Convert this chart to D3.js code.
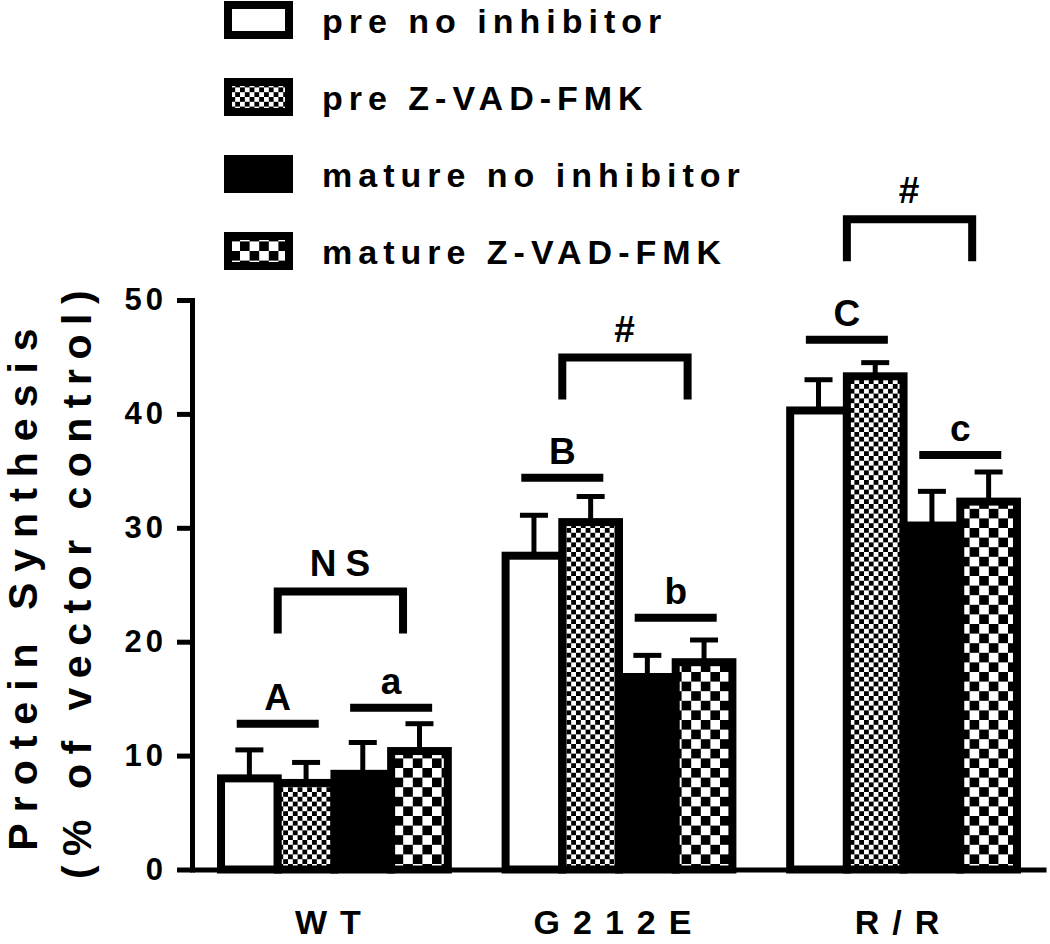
<!DOCTYPE html>
<html>
<head>
<meta charset="utf-8">
<script src="https://cdn.jsdelivr.net/npm/d3@7"></script>
<style>
  body { margin: 0; background: #fff; }
  text { font-family: "Liberation Sans", Arial, sans-serif; font-weight: bold; fill: #000; }
</style>
</head>
<body>
<script>
// data
var groups = ["WT", "G212E", "R/R"];
var series = ["pre no inhibitor", "pre Z-VAD-FMK", "mature no inhibitor", "mature Z-VAD-FMK"];

var preNone = [8.0, 27.55, 40.3];
var preZvad = [7.6, 30.5, 43.3];
var matNone = [8.4, 16.9, 30.2];
var matZvad = [10.4, 18.2, 32.3];

var preNoneErr = [2.5, 3.55, 2.7];
var preZvadErr = [1.8, 2.25, 1.2];
var matNoneErr = [2.75, 1.9, 3.0];
var matZvadErr = [2.4, 1.95, 2.6];

var yTicks = [0, 10, 20, 30, 40, 50];

// significance marks
var preLetters = ["A", "B", "C"];
var preLetterY = [12.8, 34.4, 46.5];
var matLetters = ["a", "b", "c"];
var matLetterY = [14.2, 22.1, 36.4];
var bracketText = ["NS", "#", "#"];
var bracketY = [24.4, 44.95, 57.1];

var values = [preNone, preZvad, matNone, matZvad];
var errors = [preNoneErr, preZvadErr, matNoneErr, matZvadErr];
var fills = ["#fff", "url(#fine)", "#000", "url(#coarse)"];

var width = 1050, height = 944;

var svg = d3.select("body").append("svg")
    .attr("width", width)
    .attr("height", height)
    .attr("viewBox", `0 0 ${width} ${height}`);

// checker patterns
var defs = svg.append("defs");
function checker(id, c) {
  var p = defs.append("pattern")
      .attr("id", id)
      .attr("patternUnits", "userSpaceOnUse")
      .attr("width", c * 2)
      .attr("height", c * 2);
  p.append("rect").attr("width", c * 2).attr("height", c * 2).attr("fill", "#fff");
  p.append("rect").attr("width", c).attr("height", c).attr("fill", "#000");
  p.append("rect").attr("x", c).attr("y", c).attr("width", c).attr("height", c).attr("fill", "#000");
}
checker("fine", 4.8);
checker("coarse", 9.6);

var x0 = d3.scaleBand()
    .domain(groups)
    .range([192, 1046])
    .paddingInner(0.203)
    .paddingOuter(0.102);

var x1 = d3.scaleBand()
    .domain(d3.range(series.length))
    .range([0, x0.bandwidth()]);

var y = d3.scaleLinear()
    .domain([0, 50])
    .range([869.5, 300]);

var rows = [];
groups.forEach(function(g, gi) {
  values.forEach(function(arr, si) {
    rows.push({group: g, gi: gi, si: si, value: arr[gi], err: errors[si][gi]});
  });
});

// error bars (drawn under the bars)
var err = svg.append("g").selectAll("g")
  .data(rows)
  .enter()
  .append("g")
  .attr("transform", d => `translate(${x0(d.group) + x1(d.si) + x1.bandwidth() / 2},0)`);

err.append("line")
    .attr("y1", d => y(d.value))
    .attr("y2", d => y(d.value + d.err))
    .attr("stroke", "#000")
    .attr("stroke-width", 5);

err.append("line")
    .attr("x1", -14)
    .attr("x2", 14)
    .attr("y1", d => y(d.value + d.err))
    .attr("y2", d => y(d.value + d.err))
    .attr("stroke", "#000")
    .attr("stroke-width", 5);

svg.append("g").selectAll("rect")
  .data(rows)
  .enter()
  .append("rect")
    .attr("x", d => x0(d.group) + x1(d.si))
    .attr("width", x1.bandwidth())
    .attr("y", d => y(d.value))
    .attr("height", d => y(0) - y(d.value))
    .attr("fill", d => fills[d.si])
    .attr("stroke", "#000")
    .attr("stroke-width", 8);

// axes
var y_axis = d3.axisLeft(y)
    .tickValues(yTicks)
    .tickSize(15)
    .tickSizeOuter(0)
    .tickPadding(10);

var yg = svg.append("g")
    .attr("transform", "translate(192,0)")
    .call(y_axis);
yg.selectAll("path, line").attr("stroke", "#000").attr("stroke-width", 5);
yg.select(".domain").attr("stroke-linecap", "square");
yg.selectAll("text")
    .style("font-size", "31px")
    .style("letter-spacing", "4px")
    .attr("fill", "#000");

var x_axis = d3.axisBottom(x0)
    .tickSize(0)
    .tickSizeOuter(0)
    .tickPadding(40);

var xg = svg.append("g")
    .attr("transform", `translate(0,${y(0)})`)
    .call(x_axis);
xg.select(".domain").attr("stroke", "#000").attr("stroke-width", 5);
xg.selectAll("text")
    .style("font-size", "34px")
    .style("letter-spacing", "13px")
    .attr("fill", "#000");

// y title
svg.append("text")
    .attr("transform", "rotate(-90)")
    .attr("x", -584)
    .attr("y", 37)
    .attr("text-anchor", "middle")
    .style("font-size", "41px")
    .style("letter-spacing", "11px")
    .text("Protein Synthesis");

svg.append("text")
    .attr("transform", "rotate(-90)")
    .attr("x", -580)
    .attr("y", 91)
    .attr("text-anchor", "middle")
    .style("font-size", "41px")
    .style("letter-spacing", "9.5px")
    .text("(% of vector control)");

// significance lines
var bw = x1.bandwidth();
var ann = svg.append("g");

groups.forEach(function(g, gi) {
  var left = x0(g);
  [[preLetters, preLetterY, 1], [matLetters, matLetterY, 3]].forEach(function(s) {
    var cx = left + bw * s[2];
    var yy = y(s[1][gi]);
    ann.append("line")
        .attr("x1", cx - 41).attr("x2", cx + 41)
        .attr("y1", yy).attr("y2", yy)
        .attr("stroke", "#000").attr("stroke-width", 8);
    ann.append("text")
        .attr("x", cx)
        .attr("y", yy - 14)
        .attr("text-anchor", "middle")
        .style("font-size", "37px")
        .text(s[0][gi]);
  });

  var bl = left + bw * 1, br = left + bw * 3.21, by = y(bracketY[gi]);
  ann.append("path")
      .attr("d", `M${bl},${by + 42}V${by}H${br}V${by + 42}`)
      .attr("fill", "none")
      .attr("stroke", "#000")
      .attr("stroke-width", 8)
      .attr("stroke-linejoin", "miter");
  ann.append("text")
      .attr("x", (bl + br) / 2 + 4)
      .attr("y", by - 16)
      .attr("text-anchor", "middle")
      .style("font-size", "37px")
      .style("letter-spacing", "9px")
      .text(bracketText[gi]);
});

// legend
var legend = svg.append("g").selectAll("g")
  .data(series)
  .enter()
  .append("g")
  .attr("transform", (d, i) => `translate(0,${20 + i * 77})`);

legend.append("rect")
    .attr("x", 228)
    .attr("y", -15)
    .attr("width", 61)
    .attr("height", 30)
    .attr("fill", (d, i) => fills[i])
    .attr("stroke", "#000")
    .attr("stroke-width", 8);

legend.append("text")
    .attr("x", 322)
    .attr("y", 13)
    .style("font-size", "34px")
    .style("letter-spacing", "6px")
    .text(d => d);
</script>
</body>
</html>
